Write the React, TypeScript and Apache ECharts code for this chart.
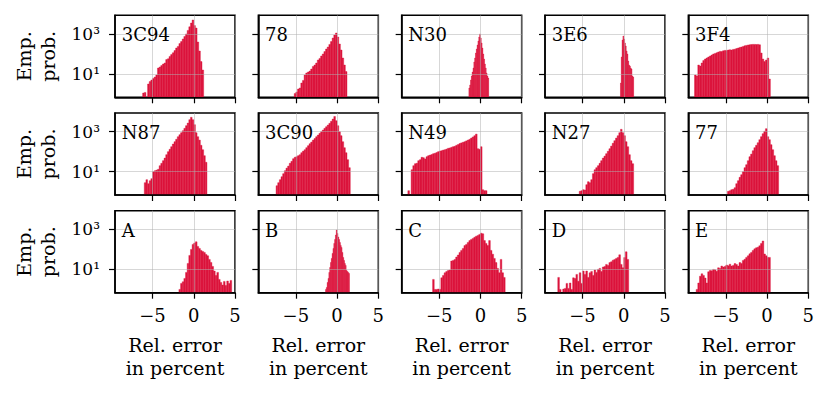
import React, { useEffect, useRef } from 'react';
import * as echarts from 'echarts';

// ---------- data (log10 of empirical probability per bin) ----------
const panelNames = ['3C94', '78', 'N30', '3E6', '3F4', 'N87', '3C90', 'N49', 'N27', '77', 'A', 'B', 'C', 'D', 'E'];
const binStart = [-6.2, -5.2, -1.4, -0.4, -8.8, -6.0, -7.4, -8.8, -5.4, -4.8, -1.8, -1.4, -5.8, -8.0, -8.6];
const binWidth = [0.2, 0.2, 0.1, 0.1, 0.2, 0.2, 0.2, 0.2, 0.2, 0.2, 0.2, 0.1, 0.2, 0.2, 0.2];

const logProb3C94 = [0.05, 0.08, null, 0.5, 0.62, 0.7, 0.78, 0.85, 0.95, 1.3, 1.35, 1.42, 1.5, 1.55, 1.72, 1.76, 1.88, 1.97, 2.06, 2.17, 2.3, 2.38, 2.52, 2.62, 2.75, 2.88, 3.0, 3.18, 3.36, 3.55, 3.7, 3.42, 3.3, 2.6, 2.15, 1.62, 1.2];
const logProb78 = [0.02, 0.1, 0.25, 0.3, 0.55, 0.68, 0.95, 1.05, 1.1, 1.15, 1.25, 1.38, 1.45, 1.55, 1.7, 1.78, 1.9, 2.0, 2.12, 2.25, 2.35, 2.48, 2.62, 2.8, 2.95, 3.05, 2.85, 2.5, 2.2, 1.8, 1.45, 1.12];
const logProbN30 = [0.3, 0.45, 0.7, 0.9, 1.1, 1.3, 1.6, 1.8, 2.05, 2.25, 2.45, 2.65, 2.85, 3.0, 2.8, 2.55, 2.3, 2.0, 1.75, 1.5, 1.3, 1.05, 0.9, 0.8];
const logProb3E6 = [0.55, 1.85, 2.7, 2.9, 2.75, 2.55, 2.4, 2.15, 2.0, 1.65, 1.45, 1.4, 1.3, 1.25, 0.9, 0.85];
const logProb3F4 = [0.95, 0.9, 1.45, 1.4, 1.55, 1.67, 1.75, 1.8, 1.85, 1.9, 1.95, 2.0, 2.03, 2.06, 2.1, 2.13, 2.12, 2.16, 2.18, 2.17, 2.2, 2.21, 2.2, 2.23, 2.24, 2.27, 2.3, 2.33, 2.35, 2.38, 2.41, 2.43, 2.45, 2.46, 2.47, 2.48, 2.48, 2.47, 2.48, 2.46, 2.05, 1.75, 1.62, 1.7, 1.8, 0.75];
const logProbN87 = [0.45, 0.6, 0.4, 0.55, 0.65, 1.0, 1.05, 1.08, 1.12, 1.3, 1.42, 1.55, 1.68, 1.85, 2.0, 2.12, 2.25, 2.38, 2.5, 2.62, 2.75, 2.85, 2.95, 3.05, 3.17, 3.3, 3.43, 3.6, 3.72, 3.6, 3.35, 2.95, 2.75, 2.58, 2.32, 2.1, 1.8, 1.47];
const logProb3C90 = [0.3, 0.45, 0.6, 0.75, 0.9, 1.05, 1.18, 1.28, 1.42, 1.52, 1.65, 1.72, 1.75, 1.8, 1.85, 1.95, 2.03, 2.1, 2.2, 2.3, 2.4, 2.48, 2.58, 2.66, 2.75, 2.83, 2.92, 3.0, 3.08, 3.17, 3.25, 3.33, 3.42, 3.52, 3.63, 3.76, 3.55, 3.3, 3.0, 2.8, 2.5, 2.2, 1.95, 1.6, 1.2];
const logProbN49 = [0.05, null, 1.1, 1.3, 1.4, 1.42, 1.55, 1.6, 1.72, 1.7, 1.64, 1.75, 1.8, 1.83, 1.86, 1.9, 1.92, 1.96, 2.0, 2.03, 2.05, 2.08, 2.1, 2.13, 2.17, 2.19, 2.22, 2.25, 2.27, 2.32, 2.36, 2.41, 2.44, 2.47, 2.5, 2.54, 2.58, 2.62, 2.68, 2.74, 2.8, 2.88, 2.15, 2.12, 2.25, 0.1, 0.05, 0.05];
const logProbN27 = [0.02, 0.05, 0.1, 0.08, 0.35, 0.5, 0.45, 0.6, 0.9, 1.1, 1.2, 1.3, 1.42, 1.55, 1.68, 1.78, 1.9, 2.02, 2.15, 2.28, 2.42, 2.55, 2.68, 2.8, 2.95, 3.12, 2.95, 2.8, 2.5, 2.25, 1.85, 1.55, 1.4];
const logProb77 = [0.02, 0.05, 0.1, 0.12, 0.2, 0.4, 0.55, 0.72, 0.85, 1.0, 1.2, 1.35, 1.55, 1.75, 1.88, 2.05, 2.2, 2.32, 2.45, 2.6, 2.75, 2.9, 3.02, 3.15, 2.75, 2.6, 2.35, 2.1, 1.8, 1.55, 1.3];
const logProbA = [0.0, 0.3, 0.38, 0.55, 0.85, 1.3, 1.7, 2.0, 2.25, 2.32, 2.38, 2.15, 2.05, 1.95, 1.9, 1.85, 1.75, 1.68, 1.5, 1.35, 1.15, 0.92, 0.7, 0.85, 0.5, 0.35, 0.22, 0.4, 0.2, 0.42, 0.3, 0.45];
const logProbB = [0.0, 0.1, 0.35, 0.55, 0.85, 1.1, 1.35, 1.55, 1.8, 2.05, 2.3, 2.5, 2.72, 2.97, 2.8, 2.62, 2.5, 2.35, 2.2, 2.1, 1.85, 1.6, 1.45, 1.3, 1.2, 0.95, 0.9, 0.85, 0.8];
const logProbC = [0.5, 0.0, 0.0, 0.02, 0.0, 0.58, 0.7, 0.83, 0.9, 0.95, 0.97, 1.42, 1.45, 1.5, 1.62, 1.72, 1.85, 1.95, 2.05, 2.19, 2.25, 2.35, 2.44, 2.5, 2.55, 2.61, 2.66, 2.7, 2.75, 2.81, 2.78, 2.44, 2.3, 2.19, 2.44, 1.95, 1.76, 1.55, 1.34, 1.05, 0.83, 1.5, 0.83, 0.6];
const logProbD = [0.6, 0.0, null, 0.02, 0.05, 0.3, 0.05, 0.32, 0.0, 0.58, 0.54, 0.75, 0.41, 0.83, 0.3, 0.92, 0.75, 0.92, 0.6, 0.83, 0.9, 0.7, 0.97, 0.85, 1.0, 1.05, 0.9, 1.12, 1.15, 1.25, 1.2, 1.34, 1.38, 1.46, 1.5, 1.55, 1.6, 1.73, 1.25, 1.08, 1.59, 1.88, 1.5];
const logProbE = [0.0, 0.32, 0.66, 0.78, 0.7, 0.57, 0.32, 0.88, 0.95, 0.93, 1.0, 0.98, 0.91, 1.08, 1.05, 1.17, 1.12, 1.15, 1.22, 1.18, 1.26, 1.17, 1.2, 1.29, 1.25, 1.17, 1.34, 1.3, 1.45, 1.51, 1.6, 1.68, 1.78, 1.85, 1.95, 2.03, 2.08, 2.11, 2.18, 2.3, 2.42, 1.77, 1.68, 1.6, 1.6];

const panelValues = [logProb3C94, logProb78, logProbN30, logProb3E6, logProb3F4, logProbN87, logProb3C90, logProbN49, logProbN27, logProb77, logProbA, logProbB, logProbC, logProbD, logProbE];

const xTickValues = [-5, 0, 5];
const xTickLabels = ['\u22125', '0', '5'];
const yTickValues = [1, 3];
const yTickLabels = ['10\u00b9', '10\u00b3'];

// ---------- layout / style ----------
const X_MIN = -9.55;
const X_MAX = 5;
const Y_MIN = -0.165;
const Y_MAX = 3.935;
const GRID_LEFT0 = 115;
const GRID_DX = 143.33;
const GRID_W = 120;
const GRID_TOP0 = 15.3;
const GRID_DY = 97.7;
const GRID_H = 82;
const FONT = "'DejaVu Serif', serif";
const BAR_COLOR = '#dc143c';
const GRID_LINE = 'rgba(176,176,176,0.5)';

function buildOption() {
  const grid: any[] = [];
  const xAxis: any[] = [];
  const yAxis: any[] = [];
  const series: any[] = [];
  const graphic: any[] = [];

  panelNames.forEach((name, i) => {
    const r = Math.floor(i / 5);
    const c = i % 5;
    const left = GRID_LEFT0 + c * GRID_DX;
    const top = GRID_TOP0 + r * GRID_DY;
    grid.push({
      left, top, width: GRID_W, height: GRID_H,
      show: true, borderColor: '#000', borderWidth: 1.5, backgroundColor: 'transparent',
    });
    xAxis.push({
      gridIndex: i, type: 'value', min: X_MIN, max: X_MAX, z: 5,
      axisLine: { show: true, onZero: false, lineStyle: { color: '#000', width: 1.5 } },
      axisTick: { show: true, customValues: xTickValues, length: 6, lineStyle: { color: '#000', width: 1.2 } },
      axisLabel: {
        show: r === 2, customValues: xTickValues, margin: 14,
        formatter: (v: number) => xTickLabels[xTickValues.indexOf(v)] ?? '',
        fontFamily: FONT, fontSize: 18, color: '#000',
      },
      splitLine: { show: true, lineStyle: { color: GRID_LINE, width: 1 } },
    });
    yAxis.push({
      gridIndex: i, type: 'value', min: Y_MIN, max: Y_MAX, z: 5,
      axisLine: { show: true, onZero: false, lineStyle: { color: '#000', width: 1.5 } },
      axisTick: { show: true, customValues: yTickValues, length: 6, lineStyle: { color: '#000', width: 1.2 } },
      axisLabel: {
        show: c === 0, customValues: yTickValues, margin: 15,
        formatter: (v: number) => yTickLabels[yTickValues.indexOf(v)] ?? '',
        fontFamily: FONT, fontSize: 17, color: '#000',
      },
      splitLine: { show: true, lineStyle: { color: GRID_LINE, width: 1 } },
    });
    const data: number[][] = [];
    panelValues[i].forEach((h, k) => {
      if (h === null || h === undefined) return;
      data.push([binStart[i] + k * binWidth[i], h as number, binWidth[i]]);
    });
    series.push({
      type: 'custom', name, xAxisIndex: i, yAxisIndex: i, clip: true, z: 2,
      encode: { x: 0, y: 1 },
      data,
      renderItem: (_p: any, api: any) => {
        const x0 = api.value(0);
        const h = api.value(1);
        const bw = api.value(2);
        const a = api.coord([x0, Y_MIN]);
        const b = api.coord([x0 + bw, h]);
        return {
          type: 'rect',
          shape: { x: a[0], y: b[1], width: b[0] - a[0], height: a[1] - b[1] },
          style: { fill: BAR_COLOR, stroke: BAR_COLOR, lineWidth: 0.4 },
        };
      },
    });
    graphic.push({
      type: 'text', x: left + 6.7, y: top + 19.4, z: 10,
      style: { text: name, fontFamily: FONT, fontSize: 18, fill: '#000', align: 'left', verticalAlign: 'middle' },
    });
    if (c === 0) {
      graphic.push({
        type: 'text', x: 35.75, y: top + GRID_H / 2, rotation: Math.PI / 2, z: 10,
        style: { text: 'Emp.\nprob.', fontFamily: FONT, fontSize: 19, lineHeight: 23.5, fill: '#000', align: 'center', verticalAlign: 'middle' },
      });
    }
    if (r === 2) {
      graphic.push({
        type: 'text', x: left + GRID_W / 2, y: 356.5, z: 10,
        style: { text: 'Rel. error\nin percent', fontFamily: FONT, fontSize: 19, lineHeight: 23, fill: '#000', align: 'center', verticalAlign: 'middle' },
      });
    }
  });

  return { animation: false, backgroundColor: '#fff', grid, xAxis, yAxis, series, graphic };
}

export default function App() {
  const ref = useRef<HTMLDivElement>(null);
  useEffect(() => {
    const chart = echarts.init(ref.current as HTMLDivElement, null, { renderer: 'svg', width: 830, height: 396 });
    chart.setOption(buildOption() as any);
    return () => chart.dispose();
  }, []);
  return <div ref={ref} style={{ position: 'fixed', left: 0, top: 0, width: 830, height: 396, background: '#fff' }} />;
}
